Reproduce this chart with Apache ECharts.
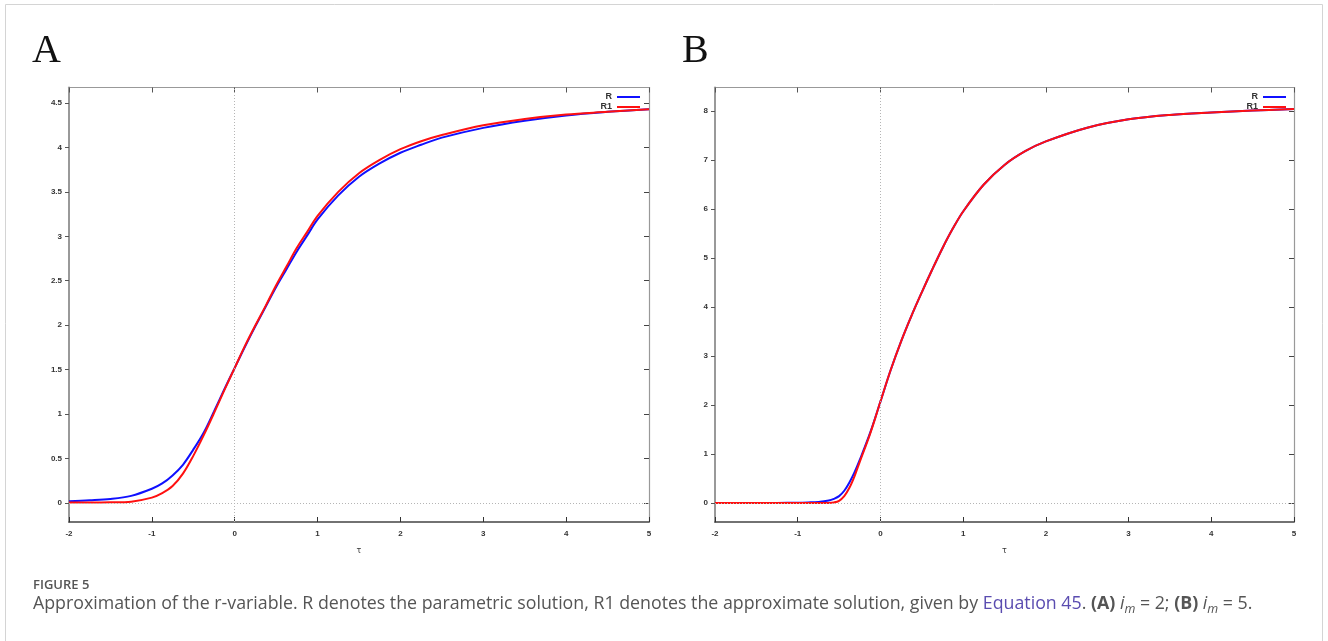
<!DOCTYPE html>
<html>
<head>
<meta charset="utf-8">
<script src="https://cdn.jsdelivr.net/npm/echarts@6/dist/echarts.min.js"></script>
<style>html,body{margin:0;padding:0;background:#fff;}#c{width:1328px;height:641px;}</style>
</head>
<body>
<div id="c"></div>
<script>
// ---- Panel A (i_m = 2) ----
const tauA = [-2, -1.75, -1.5, -1.25, -1, -0.875, -0.75, -0.625, -0.5, -0.375, -0.25, -0.125, 0, 0.125, 0.25, 0.375, 0.5, 0.625, 0.75, 0.875, 1, 1.25, 1.5, 1.75, 2, 2.25, 2.5, 3, 3.5, 4, 4.5, 5];
const rA   = [0.02, 0.03, 0.045, 0.08, 0.16, 0.22, 0.31, 0.43, 0.60, 0.79, 1.03, 1.28, 1.52, 1.76, 1.99, 2.21, 2.43, 2.63, 2.83, 3.01, 3.19, 3.46, 3.67, 3.82, 3.94, 4.03, 4.11, 4.22, 4.30, 4.36, 4.40, 4.43];
const r1A  = [0.005, 0.005, 0.007, 0.015, 0.06, 0.11, 0.19, 0.33, 0.53, 0.76, 1.01, 1.27, 1.52, 1.77, 2.00, 2.22, 2.45, 2.66, 2.87, 3.05, 3.23, 3.50, 3.71, 3.86, 3.98, 4.07, 4.14, 4.25, 4.32, 4.37, 4.40, 4.43];
const yTicksA = [0, 0.5, 1, 1.5, 2, 2.5, 3, 3.5, 4, 4.5];

// ---- Panel B (i_m = 5) ----
const tauB = [-2, -1.5, -1.25, -1, -0.875, -0.75, -0.625, -0.5625, -0.5, -0.4375, -0.375, -0.3125, -0.25, -0.125, 0, 0.125, 0.25, 0.375, 0.5, 0.625, 0.75, 0.875, 1, 1.25, 1.5, 1.75, 2, 2.5, 3, 3.5, 4, 4.5, 5];
const rB   = [0, 0, 0.002, 0.006, 0.012, 0.022, 0.05, 0.085, 0.14, 0.25, 0.42, 0.63, 0.88, 1.43, 2.07, 2.72, 3.30, 3.82, 4.30, 4.76, 5.20, 5.60, 5.95, 6.50, 6.90, 7.18, 7.38, 7.66, 7.83, 7.92, 7.97, 8.01, 8.04];
const r1B  = [0, 0, 0, 0, 0, 0, 0.002, 0.012, 0.045, 0.14, 0.31, 0.55, 0.84, 1.41, 2.07, 2.72, 3.30, 3.82, 4.30, 4.76, 5.20, 5.60, 5.95, 6.50, 6.90, 7.18, 7.38, 7.66, 7.83, 7.92, 7.97, 8.01, 8.04];
const yTicksB = [0, 1, 2, 3, 4, 5, 6, 7, 8];

const seriesNames = ['R', 'R1'];
const panelLetters = ['A', 'B'];
const xName = 'τ';

const pairs = (xs, ys) => xs.map((x, i) => [x, ys[i]]);

const chart = echarts.init(document.getElementById('c'), null, {renderer: 'canvas'});

const labelStyle = {fontSize: 8, color: '#333', fontWeight: 'bold', fontFamily: 'Liberation Sans, Arial, sans-serif'};

function xAxes(g) {
  return [
    {gridIndex: g, type: 'value', min: -2, max: 5, interval: 1, position: 'bottom',
     name: xName, nameLocation: 'middle', nameGap: 25,
     nameTextStyle: {fontSize: 8, color: '#333', fontFamily: 'DejaVu Sans'},
     axisLine: {onZero: false, lineStyle: {color: '#444', width: 1.5}},
     axisTick: {inside: true, length: 5, lineStyle: {color: '#333'}},
     axisLabel: Object.assign({margin: 8}, labelStyle),
     splitLine: {show: false}},
    {gridIndex: g, type: 'value', min: -2, max: 5, interval: 1, position: 'top',
     axisLine: {onZero: false, lineStyle: {color: '#999', width: 1.2}},
     axisTick: {inside: true, length: 5, lineStyle: {color: '#555'}},
     axisLabel: {show: false}, splitLine: {show: false}}
  ];
}
function yAxes(g, min, max, ticks) {
  return [
    {gridIndex: g, type: 'value', min: min, max: max, position: 'left',
     axisLine: {onZero: false, lineStyle: {color: '#999', width: 2}},
     axisTick: {customValues: ticks, inside: false, length: 4, lineStyle: {color: '#555'}},
     axisLabel: Object.assign({customValues: ticks, margin: 7}, labelStyle),
     splitLine: {show: false}},
    {gridIndex: g, type: 'value', min: min, max: max, position: 'right',
     axisLine: {onZero: false, lineStyle: {color: '#999', width: 1.2}},
     axisTick: {customValues: ticks, inside: true, length: 5, lineStyle: {color: '#444'}},
     axisLabel: {show: false}, splitLine: {show: false}}
  ];
}

const zeroLines = {
  silent: true, symbol: 'none', label: {show: false},
  lineStyle: {color: '#b5b5b5', type: [1, 2], width: 1},
  emphasis: {disabled: true},
  data: [{xAxis: 0}, {yAxis: 0}]
};

function lineSeries(name, data, color, xi, yi, withZero) {
  const s = {
    name: name, type: 'line', data: data, xAxisIndex: xi, yAxisIndex: yi,
    showSymbol: false, smooth: 0.35,
    lineStyle: {color: color, width: 2}, itemStyle: {color: color},
    emphasis: {disabled: true}, z: 3
  };
  if (withZero) s.markLine = zeroLines;
  return s;
}

const legendBase = {
  data: seriesNames, orient: 'vertical', align: 'right', icon: 'rect',
  itemWidth: 23, itemHeight: 2, itemGap: 0, padding: 0, top: 92,
  textStyle: {fontSize: 9, color: '#333', fontWeight: 'bold', lineHeight: 10, fontFamily: 'Liberation Sans, Arial, sans-serif'}
};

const F = '"Open Sans"';
const captionRich = {
  a: {fontSize: 17.8, fill: '#555', fontFamily: F, lineHeight: 24},
  eq: {fontSize: 17.8, fill: '#5a4cb0', fontFamily: F, lineHeight: 24},
  b: {fontSize: 17.8, fill: '#555', fontFamily: F, fontWeight: 'bold', lineHeight: 24},
  i: {fontSize: 17.8, fill: '#555', fontFamily: F, fontStyle: 'italic', lineHeight: 24},
  s: {fontSize: 12.5, fill: '#555', fontFamily: F, fontStyle: 'italic', lineHeight: 12, verticalAlign: 'bottom'}
};

const option = {
  animation: false,
  backgroundColor: '#fff',
  grid: [
    {left: 69, top: 87.5, width: 580, height: 434.5, show: false},
    {left: 715, top: 87.5, width: 579, height: 434.5, show: false}
  ],
  xAxis: [].concat(xAxes(0), xAxes(1)),
  yAxis: [].concat(yAxes(0, -0.214, 4.674, yTicksA), yAxes(1, -0.388, 8.48, yTicksB)),
  legend: [
    Object.assign({right: 688}, legendBase),
    Object.assign({right: 42}, legendBase)
  ],
  series: [
    lineSeries('R', pairs(tauA, rA), '#1010ff', 0, 0, true),
    lineSeries('R1', pairs(tauA, r1A), '#ff1010', 0, 0, false),
    lineSeries('R', pairs(tauB, rB), '#1010ff', 2, 2, true),
    lineSeries('R1', pairs(tauB, r1B), '#ff1010', 2, 2, false)
  ],
  graphic: [
    {type: 'rect', silent: true, shape: {x: 5.5, y: 4.5, width: 1317, height: 700},
     style: {fill: 'none', stroke: '#d4d4d4', lineWidth: 1}},
    {type: 'text', x: 32, y: 51, silent: true,
     style: {text: panelLetters[0], font: '40px "Liberation Serif"', fill: '#111', textVerticalAlign: 'middle'}},
    {type: 'text', x: 682, y: 51, silent: true,
     style: {text: panelLetters[1], font: '40px "Liberation Serif"', fill: '#111', textVerticalAlign: 'middle'}},
    {type: 'text', x: 33, y: 585, silent: true,
     style: {text: 'FIGURE 5', font: '600 13px "Open Sans"', fill: '#555', textVerticalAlign: 'middle'}},
    {type: 'text', x: 33, y: 592, silent: true,
     style: {
       text: '{a|Approximation of the r-variable. R denotes the parametric solution, R1 denotes the approximate solution, given by }{eq|Equation 45}{a|. }{b|(A)}{a| }{i|i}{s|m}{a| = 2; }{b|(B)}{a| }{i|i}{s|m}{a| = 5.}',
       fill: '#555',
       rich: captionRich
     }}
  ]
};
chart.setOption(option);
</script>
</body>
</html>
